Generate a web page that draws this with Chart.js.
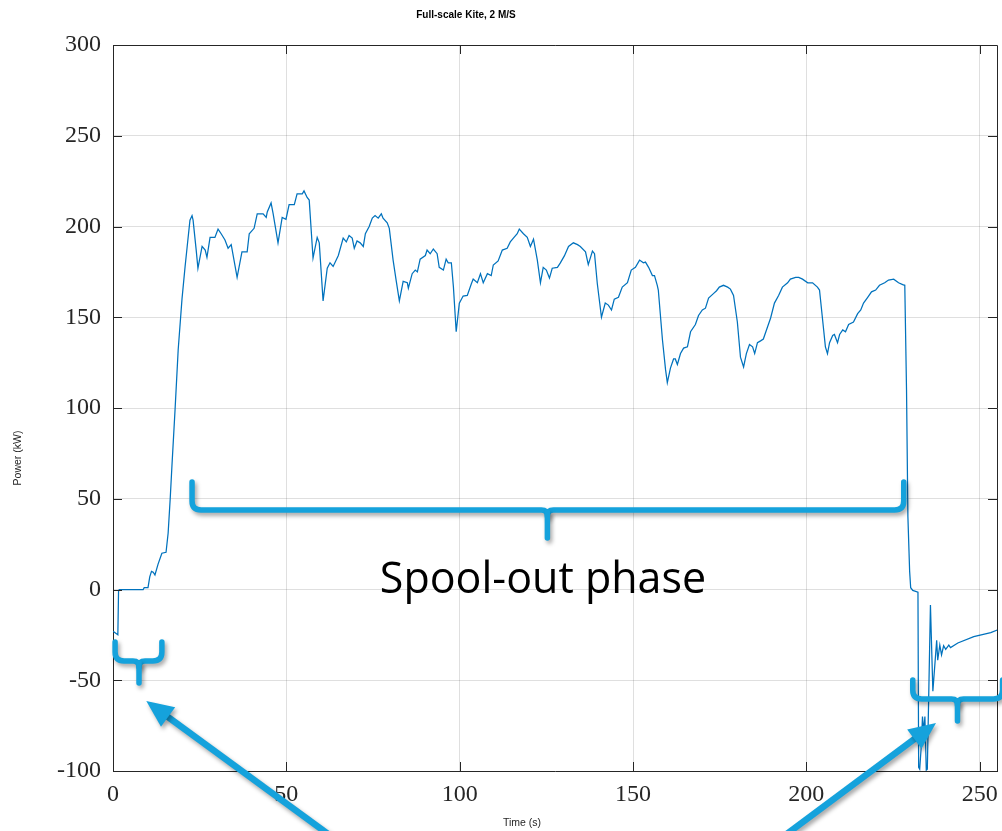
<!DOCTYPE html>
<html>
<head>
<meta charset="utf-8">
<title>Full-scale Kite, 2 M/S</title>
<script src="https://cdn.jsdelivr.net/npm/chart.js@4"></script>
<style>
  html, body { margin: 0; padding: 0; background: #fff; }
  #wrap { position: relative; width: 1002px; height: 831px; }
</style>
</head>
<body>
<div id="wrap"><canvas id="c"></canvas></div>
<script>
// Time samples (s)
const timeS = [
  0, 1.4, 1.6, 1.8, 8.7, 9.0, 10.1, 10.6, 11.1, 11.6, 12.1, 13.0, 14.1, 15.3, 15.9, 16.5, 17.0, 17.9, 18.8, 19.9,
  20.8, 21.4, 22.2, 22.8, 23.1, 24.0, 24.5, 25.0, 25.7, 26.6, 27.1, 28.0, 29.4, 30.3, 31.2, 32.3, 33.2, 34.1, 35.8, 37.2,
  38.7, 39.3, 40.7, 41.6, 43.3, 44.2, 44.5, 45.6, 46.2, 47.6, 48.8, 49.9, 50.8, 52.3, 53.1, 54.6, 55.1, 56.0, 56.6, 57.7,
  58.9, 59.5, 60.6, 61.8, 62.6, 63.5, 65.0, 66.4, 67.3, 68.1, 69.0, 69.6, 70.4, 71.3, 72.2, 72.8, 73.9, 74.8, 75.6, 76.5,
  77.4, 77.9, 79.1, 79.7, 80.8, 81.7, 82.6, 83.7, 84.9, 85.2, 86.3, 87.2, 87.8, 88.6, 90.1, 90.6, 91.5, 92.4, 93.5, 94.1,
  95.3, 96.1, 96.7, 97.6, 98.2, 99.0, 99.9, 101.0, 102.2, 103.4, 103.9, 105.1, 106.0, 106.8, 108.0, 109.1, 109.7, 111.1, 112.3, 113.7,
  114.6, 115.5, 116.6, 117.2, 118.4, 119.5, 120.4, 121.3, 122.4, 123.3, 124.1, 125.0, 125.9, 126.7, 128.2, 129.0, 130.2, 131.4, 132.8, 134.0,
  134.8, 136.3, 137.1, 138.3, 138.9, 139.7, 140.9, 142.0, 142.9, 143.8, 144.6, 145.8, 146.9, 148.4, 149.5, 150.7, 151.9, 153.0, 153.6, 154.5,
  155.6, 156.2, 157.0, 157.3, 158.5, 159.4, 159.9, 160.8, 161.7, 162.2, 162.8, 163.7, 164.6, 165.7, 166.6, 168.0, 168.9, 170.0, 170.9, 171.8,
  173.2, 174.1, 174.9, 176.1, 177.3, 178.1, 179.0, 180.1, 181.0, 181.9, 182.7, 183.6, 184.5, 185.1, 185.9, 186.8, 187.6, 188.8, 189.7, 190.8,
  192.0, 193.1, 194.6, 195.4, 196.9, 197.8, 198.9, 200.4, 201.8, 203.2, 203.8, 205.0, 205.5, 206.1, 206.7, 207.6, 208.1, 209.0, 209.6, 210.5,
  211.3, 212.2, 213.6, 214.8, 215.7, 216.5, 217.7, 218.8, 220.0, 221.1, 222.6, 223.7, 225.2, 226.6, 227.8, 228.4, 228.9, 229.3, 229.8, 230.1,
  230.7, 232.2, 232.4, 232.7, 233.2, 233.5, 233.9, 234.2, 234.6, 234.9, 235.8, 236.5, 237.6, 237.9, 238.5, 239.0, 239.6, 240.2, 241.1, 241.6,
  243.7, 248.3, 253.2, 255.5
];

// Power (kW)
const powerKW = [
  -23, -25, -1, 0, 0, 1, 1, 7, 10, 9.5, 8, 14, 20, 20.5, 31, 50, 68, 99, 132, 160,
  178, 189, 203.5, 206, 203.5, 187, 177, 182, 189, 187, 183, 194, 194, 198.6, 196, 192.6, 188, 190, 172, 186,
  186, 196, 199, 207, 207, 205, 208, 213, 207, 191, 205, 204, 212, 212, 218, 218, 219.6, 216, 214.6, 182.6,
  194, 191, 159, 177, 180, 178, 184, 193.6, 191.5, 195, 193.6, 188, 192, 191, 189, 196, 200, 204.6, 206, 204.6,
  207, 204.6, 202, 199, 181.5, 170, 159, 169.8, 169, 166, 174, 176, 175, 182, 184, 187, 185, 187.6, 185, 177.5,
  176, 182, 180, 180, 166.6, 142, 157.8, 161.7, 162, 168.6, 171, 169, 174, 169, 174, 173, 178.8, 181, 187, 188,
  191.5, 193.6, 196, 198.6, 196, 194, 189, 193, 181.5, 169, 177.5, 176, 171.6, 177, 177.5, 179.8, 183.8, 189, 191, 190,
  189, 186, 179, 186.5, 185, 168.6, 150, 157.8, 156.7, 154, 160, 161, 166.6, 169, 176, 177.5, 181.5, 180, 180.4, 177.5,
  173, 173, 167.6, 165, 137.5, 121, 114, 122, 127, 127, 124, 130, 133, 133.7, 142, 146, 151, 154, 155, 160.6,
  163, 164.6, 166.6, 167.6, 166.6, 165.5, 162, 147.4, 128, 122.6, 130, 135, 133.7, 130, 136, 137, 138, 144.6, 149.6, 157.8,
  162, 166.6, 169, 171, 172, 172, 171, 169, 169, 166.6, 165, 143, 133.7, 130, 136, 140, 140.5, 136, 140.5, 143,
  142, 146, 147.4, 152, 154, 157.8, 161, 164, 165, 167.6, 169, 170.5, 171, 169, 168, 167.6, 110, 40, 10, 1,
  -0.5, -1.5, -98, -99, -85, -70, -78, -70, -99.5, -99, -8.5, -56, -28, -39, -30.6, -36, -31, -33, -30.6, -32,
  -29.5, -26, -23.8, -22
];

const xTicks = [0, 50, 100, 150, 200, 250];
const yTicks = [-100, -50, 0, 50, 100, 150, 200, 250, 300];

const chartTitle = 'Full-scale Kite, 2 M/S';
const xLabel = 'Time (s)';
const yLabel = 'Power (kW)';
const phaseLabel = 'Spool-out phase';

// Curly braces marking the phases, in axis units (time, power)
const braces = [
  { x1: 22.8, x2: 228.1, xm: 125.3, yTop: 59.2, yMid: 43.8, yTip: 28.4 },
  { x1: 0.6, x2: 14.1, xm: 7.5, yTop: -28.9, yMid: -39.4, yTip: -51.5 },
  { x1: 230.7, x2: 256.6, xm: 243.6, yTop: -49.9, yMid: -60.3, yTip: -72.5 }
];

// Pointer arrows (tail -> head), in axis units
const arrows = [
  { from: [62.6, -135.5], to: [9.6, -61.5] },
  { from: [193.8, -135.5], to: [237.4, -73.5] }
];

const AXIS_COLOR = '#262626';
const ACCENT = '#15a2dc';

// Box outline and inward tick marks on all four sides
const framePlugin = {
  id: 'frame',
  afterDatasetsDraw(chart) {
    const { ctx, chartArea: a, scales } = chart;
    const L = 9;
    ctx.save();
    ctx.strokeStyle = AXIS_COLOR;
    ctx.lineWidth = 1;
    ctx.beginPath();
    ctx.moveTo(a.left, a.top + 0.5);
    ctx.lineTo(a.right + 0.5, a.top + 0.5);
    ctx.lineTo(a.right + 0.5, a.bottom);
    ctx.stroke();
    ctx.beginPath();
    xTicks.forEach(v => {
      const x = Math.round(scales.x.getPixelForValue(v)) + 0.5;
      ctx.moveTo(x, a.bottom); ctx.lineTo(x, a.bottom - L);
      ctx.moveTo(x, a.top); ctx.lineTo(x, a.top + L);
    });
    yTicks.forEach(v => {
      const y = Math.round(scales.y.getPixelForValue(v)) + 0.5;
      ctx.moveTo(a.left, y); ctx.lineTo(a.left + L, y);
      ctx.moveTo(a.right, y); ctx.lineTo(a.right - L, y);
    });
    ctx.stroke();
    ctx.restore();
  }
};

function drawBrace(ctx, b, xs, ys) {
  const x1 = xs.getPixelForValue(b.x1), x2 = xs.getPixelForValue(b.x2), xm = xs.getPixelForValue(b.xm);
  const yt = ys.getPixelForValue(b.yTop), yh = ys.getPixelForValue(b.yMid), yp = ys.getPixelForValue(b.yTip);
  const r = Math.min(9, (yh - yt) * 0.5);
  const r2 = 6;
  ctx.beginPath();
  ctx.moveTo(x1, yt);
  ctx.lineTo(x1, yh - r);
  ctx.quadraticCurveTo(x1, yh, x1 + r, yh);
  ctx.lineTo(xm - r2, yh);
  ctx.quadraticCurveTo(xm, yh, xm, yh + r2);
  ctx.quadraticCurveTo(xm, yh, xm + r2, yh);
  ctx.lineTo(x2 - r, yh);
  ctx.quadraticCurveTo(x2, yh, x2, yh - r);
  ctx.lineTo(x2, yt);
  ctx.stroke();
  ctx.beginPath();
  ctx.moveTo(xm, yh + 2);
  ctx.lineTo(xm, yp);
  ctx.stroke();
}

function drawArrow(ctx, a, xs, ys) {
  const x0 = xs.getPixelForValue(a.from[0]), y0 = ys.getPixelForValue(a.from[1]);
  const x1 = xs.getPixelForValue(a.to[0]), y1 = ys.getPixelForValue(a.to[1]);
  const ang = Math.atan2(y1 - y0, x1 - x0);
  const headLen = 27, headW = 12;
  const c = Math.cos(ang), s = Math.sin(ang);
  const bx = x1 - headLen * c, by = y1 - headLen * s;
  ctx.beginPath();
  ctx.moveTo(x0, y0);
  ctx.lineTo(bx + 2 * c, by + 2 * s);
  ctx.stroke();
  ctx.beginPath();
  ctx.moveTo(x1, y1);
  ctx.lineTo(bx - headW * s, by + headW * c);
  ctx.lineTo(bx + headW * s, by - headW * c);
  ctx.closePath();
  ctx.fill();
}

// Titles, phase markers and caption
const overlayPlugin = {
  id: 'overlay',
  afterDraw(chart) {
    const { ctx, scales } = chart;
    const xs = scales.x, ys = scales.y;
    ctx.save();

    ctx.fillStyle = '#000';
    ctx.font = 'bold 10px "Liberation Sans", Arial, sans-serif';
    ctx.textAlign = 'center';
    ctx.textBaseline = 'middle';
    ctx.fillText(chartTitle, 466, 15);

    ctx.fillStyle = AXIS_COLOR;
    ctx.font = '10.5px "Liberation Sans", Arial, sans-serif';
    ctx.fillText(xLabel, 522, 823);
    ctx.save();
    ctx.translate(18, 458);
    ctx.rotate(-Math.PI / 2);
    ctx.fillText(yLabel, 0, 0);
    ctx.restore();

    ctx.strokeStyle = ACCENT;
    ctx.fillStyle = ACCENT;
    ctx.lineCap = 'round';
    ctx.lineJoin = 'round';
    ctx.shadowColor = 'rgba(0,0,0,0.35)';
    ctx.shadowBlur = 4;
    ctx.shadowOffsetX = 2;
    ctx.shadowOffsetY = 3;
    ctx.lineWidth = 5.5;
    braces.forEach(b => drawBrace(ctx, b, xs, ys));
    ctx.lineWidth = 6.5;
    ctx.lineCap = 'butt';
    arrows.forEach(a => drawArrow(ctx, a, xs, ys));

    ctx.shadowColor = 'transparent';
    ctx.fillStyle = '#000';
    ctx.font = '43px "Open Sans", "Liberation Sans", Arial, sans-serif';
    ctx.textAlign = 'center';
    ctx.textBaseline = 'alphabetic';
    ctx.fillText(phaseLabel, 543, 593);
    ctx.restore();
  }
};

const tickFont = { family: '"Liberation Serif", "Times New Roman", serif', size: 24 };
const gridColor = 'rgba(38,38,38,0.15)';

new Chart(document.getElementById('c'), {
  type: 'line',
  data: {
    datasets: [{
      data: timeS.map((t, i) => ({ x: t, y: powerKW[i] })),
      borderColor: '#0072BD',
      borderWidth: 1.25,
      pointRadius: 0,
      tension: 0,
      fill: false
    }]
  },
  options: {
    responsive: true,
    maintainAspectRatio: false,
    animation: false,
    layout: { padding: { top: 45, right: 5, left: 0, bottom: 0 } },
    plugins: {
      legend: { display: false },
      title: { display: false },
      tooltip: { enabled: false }
    },
    scales: {
      x: {
        type: 'linear',
        min: 0,
        max: 255,
        afterBuildTicks: s => { s.ticks = xTicks.map(v => ({ value: v })); },
        afterFit: s => { s.height = 60; s.paddingLeft = 0; s.paddingRight = 0; },
        ticks: { padding: 9, font: tickFont, color: AXIS_COLOR, maxRotation: 0, autoSkip: false, callback: v => String(v) },
        grid: { color: gridColor, drawTicks: false },
        border: { color: AXIS_COLOR, width: 1 }
      },
      y: {
        type: 'linear',
        min: -100,
        max: 300,
        afterBuildTicks: s => { s.ticks = yTicks.map(v => ({ value: v })); },
        afterFit: s => { s.width = 113; },
        ticks: { padding: 12, font: tickFont, color: AXIS_COLOR, autoSkip: false, callback: v => String(v) },
        grid: { color: gridColor, drawTicks: false },
        border: { color: AXIS_COLOR, width: 1 }
      }
    }
  },
  plugins: [framePlugin, overlayPlugin]
});
</script>
</body>
</html>
